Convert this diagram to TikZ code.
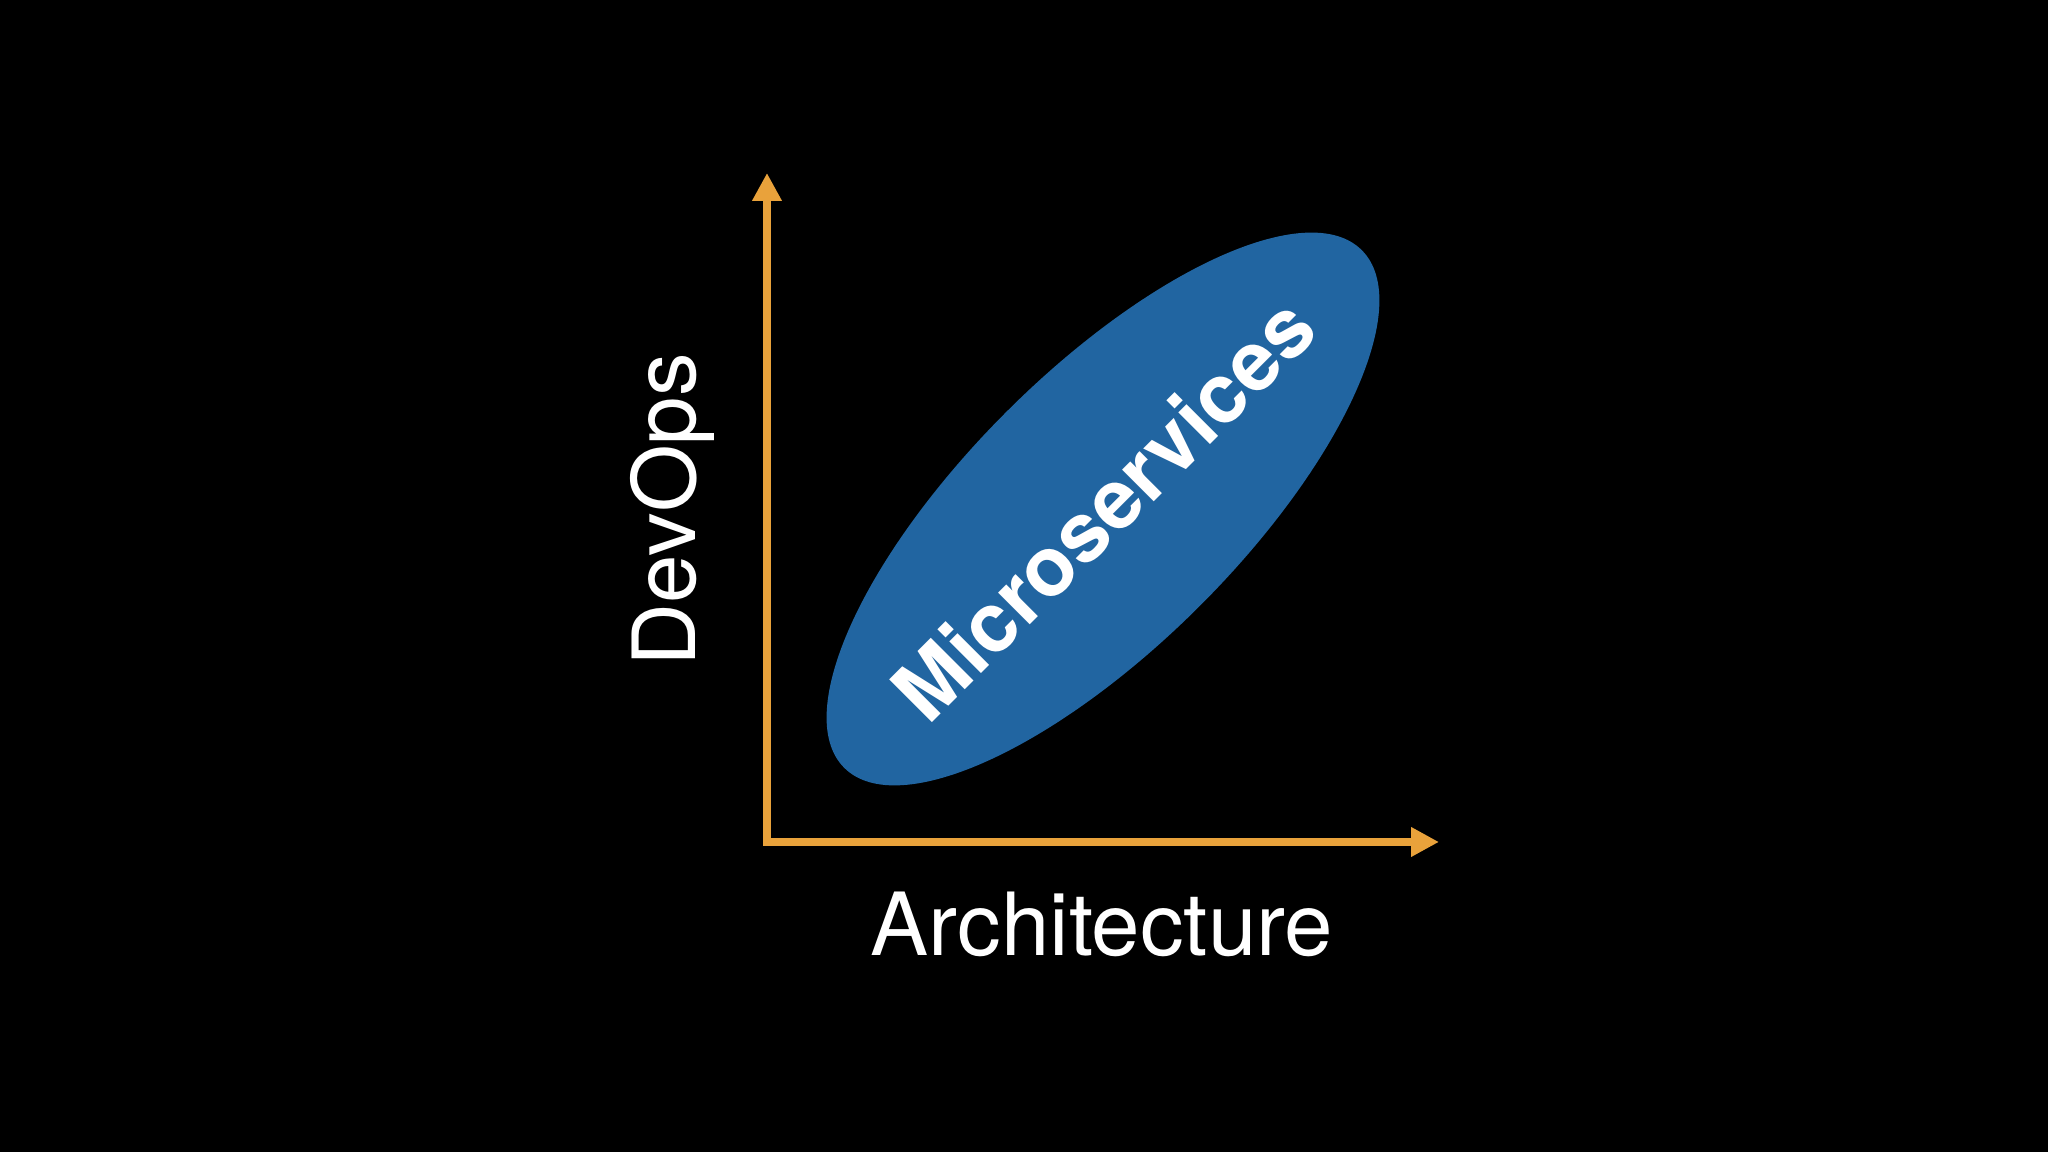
\documentclass[tikz,border=0pt]{standalone}
\usepackage{fontspec}
\setmainfont{TeX Gyre Heros}
\usetikzlibrary{arrows.meta}

\definecolor{axisorange}{RGB}{233,162,59}
\definecolor{msblue}{RGB}{33,101,161}

\tikzset{
	axisline/.style={line width=0.085cm, color=axisorange, line join=miter},
	axislabel/.style={text=white, inner sep=0pt, font=\fontsize{24.8}{30}\selectfont},
	bubble/.style={text=white, inner sep=0pt, font=\bfseries\fontsize{23.6}{28}\selectfont}
}

\begin{document}
\begin{tikzpicture}

						\fill[black] (0, 0) rectangle (20.48, 11.52);

						\coordinate(o) at (7.67, 3.10);
						\coordinate(y) at (7.67, 9.79);
						\coordinate(x) at (14.39, 3.10);
						\coordinate(c) at (11.03, 6.43);

						\fill[msblue, rotate around={45:(c)}] (c) ellipse [x radius=3.66, y radius=1.37];
						\node[bubble, rotate=45] (ms) at (c) {Microservices};

						\draw[axisline, {Triangle[length=0.28cm, width=0.28cm]}-{Triangle[length=0.28cm, width=0.28cm]}] (y)--(o)--(x);

						\node[axislabel, rotate=90, anchor=base] (devops) at (6.95, 6.42) {DevOps};
						\node[axislabel, anchor=base] (arch) at (11.02, 1.96) {Architecture};

					\end{tikzpicture}
\end{document}
